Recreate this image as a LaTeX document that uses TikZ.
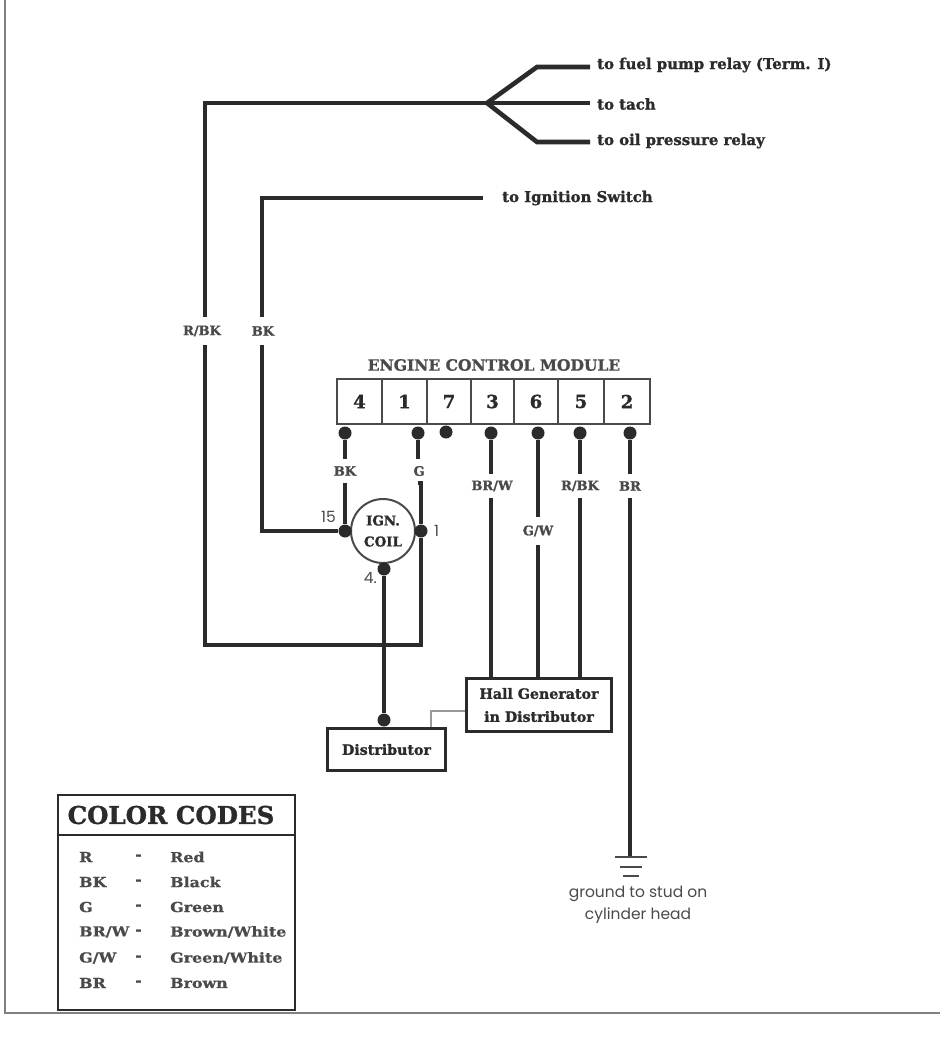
\documentclass[tikz,border=0pt]{standalone}
\usepackage{fontspec}
\setmainfont{DejaVu Serif}
\newfontfamily\geo{Poppins}
\newfontfamily\slab{DejaVu Serif}[BoldFeatures={FakeBold=1.2}]
\newfontfamily\slabwide{DejaVu Serif}[BoldFeatures={FakeStretch=1.15,FakeBold=0.8}]
\definecolor{ink}{HTML}{2B2B2B}
\definecolor{soft}{HTML}{4A4A4A}
\tikzset{
  wire/.style={draw=ink,line width=3.6pt},
  heavy/.style={draw=ink,line width=4.6pt},
  pin/.style={circle,fill=ink,draw=none,inner sep=0pt,minimum size=13pt},
  lab/.style={font=\slab\bfseries\fontsize{13}{13}\selectfont,text=soft,inner sep=0pt,minimum height=23pt,minimum width=10pt},
  dest/.style={font=\slab\bfseries\fontsize{14.9}{14.9}\selectfont,text=ink,anchor=west,inner sep=0pt},
  cell/.style={draw=soft,line width=2pt,minimum height=45pt,inner sep=0pt,font=\slab\bfseries\fontsize{18}{18}\selectfont,text=ink},
  boxx/.style={draw=ink,line width=2.6pt,inner sep=0pt,align=center,font=\slab\bfseries\fontsize{14.2}{23}\selectfont,text=ink},
  note/.style={font=\geo\fontsize{15.5}{15.5}\selectfont,text=soft,inner sep=0pt},
  legend/.style={font=\slabwide\bfseries\fontsize{13.8}{13.8}\selectfont,text=soft,anchor=west,inner sep=0pt},
}
\begin{document}
\begin{tikzpicture}[x=1pt,y=-1pt]
\useasboundingbox (0,0) rectangle (940,1039);
\fill[white] (0,0) rectangle (940,1039);
% page edge
\coordinate (e1) at (5,0); \coordinate (e2) at (5,1013); \coordinate (e3) at (940,1013);
\draw[gray,line width=1.6pt] (e1) -- (e2) -- (e3);

% ECM
\node[font=\slab\bfseries\fontsize{15.5}{15.5}\selectfont,text=soft,inner sep=0pt] (ecm) at (494,365) {ENGINE CONTROL MODULE};
\node[cell,minimum width=45pt] (c4) at (359.5,401.5) {4};
\node[cell,minimum width=45pt] (c1) at (404.5,401.5) {1};
\node[cell,minimum width=44pt] (c7) at (449,401.5) {7};
\node[cell,minimum width=43pt] (c3) at (492.5,401.5) {3};
\node[cell,minimum width=44pt] (c6) at (536,401.5) {6};
\node[cell,minimum width=46pt] (c5) at (581,401.5) {5};
\node[cell,minimum width=46pt] (c2) at (627,401.5) {2};

% pins
\node[pin] (p4) at (345,433) {};
\node[pin] (p1) at (418,433) {};
\node[pin] (p7) at (446,432) {};
\node[pin] (p3) at (491,433) {};
\node[pin] (p6) at (538,433) {};
\node[pin] (p5) at (580,433) {};
\node[pin] (p2) at (630,433) {};

% coil
\node[circle,draw=soft,line width=2pt,minimum size=64pt,inner sep=0pt,align=center,font=\slab\bfseries\fontsize{13.4}{21}\selectfont,text=ink] (coil) at (383,531) {IGN.\\COIL};
\node[pin] (j15) at (345,531) {};
\node[pin] (j1) at (421,531) {};
\node[pin] (j4) at (384,569) {};
\node[note,anchor=east] (n15) at (336,517) {15};
\node[note,anchor=west] (n1) at (434,531) {1};
\node[note,anchor=east] (n4) at (377,578) {4.};

% wire labels
\node[lab] (lbk) at (345,471) {BK};
\node[lab] (lg) at (419,471) {G};
\node[lab] (lbrw) at (492,486) {BR/W};
\node[lab,minimum height=27pt] (lgw) at (538,531) {G/W};
\node[lab] (lrbk2) at (580,486) {R/BK};
\node[lab] (lbr) at (630,486) {BR};
\node[lab,minimum height=28pt] (lrbk) at (202,331) {R/BK};
\node[lab,minimum height=28pt] (lbk2) at (263,331) {BK};

% boxes
\node[boxx,minimum width=145pt,minimum height=53pt] (hall) at (539,705) {Hall Generator\\in Distributor};
\node[boxx,minimum width=118pt,minimum height=42pt] (dist) at (386.5,749.5) {Distributor};
\node[pin] (jd) at (384,720) {};

% destinations
\node[dest] (fuel) at (597,65) {to fuel pump relay (Term. I)};
\node[dest] (tach) at (597,104) {to tach};
\node[dest] (oil) at (597,141) {to oil pressure relay};
\node[dest] (ign) at (502,198) {to Ignition Switch};

% fan
\coordinate (fan) at (487,103);
\coordinate (f1) at (537,67);
\coordinate (f3) at (537,142);
\coordinate (fe1) at (590,67);
\coordinate (fe2) at (590,103);
\coordinate (fe3) at (590,142);
\draw[heavy] (fan) -- (f1) -- (fe1);
\draw[heavy] (fan) -- (fe2);
\draw[heavy] (fan) -- (f3) -- (fe3);

% R/BK loop
\coordinate (r1) at (205,103);
\coordinate (r2) at (205,645);
\coordinate (r3) at (421,645);
\draw[heavy,line join=miter] (fan) -- (r1) -- (lrbk.north -| r1);
\draw[heavy,line join=miter] (lrbk.south -| r1) -- (r2) -- (r3) -- (j1);

% BK to ignition
\coordinate (b0) at (483,198);
\coordinate (b1) at (262,198);
\coordinate (b2) at (262,531);
\draw[heavy] (b0) -- (b1) -- (lbk2.north -| b1);
\draw[heavy] (lbk2.south -| b1) -- (b2) -- (j15);

% wires to ECM
\draw[wire] (p4) -- (lbk.north -| p4);
\draw[wire] (lbk.south -| p4) -- (j15);
\draw[wire] (p1) -- (lg.north -| p1);
\draw[wire] (lg.south -| p1) -- (j1 |- lg.south) -- (j1);
\draw[wire] (p3) -- (lbrw.north -| p3);
\draw[wire] (lbrw.south -| p3) -- (p3 |- hall.north);
\draw[wire] (p6) -- (lgw.north -| p6);
\draw[wire] (lgw.south -| p6) -- (p6 |- hall.north);
\draw[wire] (p5) -- (lrbk2.north -| p5);
\draw[wire] (lrbk2.south -| p5) -- (p5 |- hall.north);
\draw[wire] (p2) -- (lbr.north -| p2);

% ground
\coordinate (g0) at (630,857);
\draw[wire] (lbr.south -| p2) -- (g0);
\coordinate (ga1) at (615,857); \coordinate (ga2) at (647,857);
\coordinate (gb1) at (620,867); \coordinate (gb2) at (642,867);
\coordinate (gc1) at (623,876); \coordinate (gc2) at (639,876);
\draw[soft,line width=1.4pt] (ga1) -- (ga2) (gb1) -- (gb2) (gc1) -- (gc2);
\node[note] (gt1) at (638,894) {ground to stud on};
\node[note] (gt2) at (638,916) {cylinder head};

% distributor
\draw[line width=4.2pt,draw=ink] (j4) -- (jd);
\coordinate (h1) at (431,711);
\draw[gray!80,line width=2pt] (hall.west |- h1) -- (h1) -- (h1 |- dist.north);

% legend
\node[draw=ink,line width=2.6pt,minimum width=237pt,minimum height=215pt,inner sep=0pt] (cc) at (176.5,902.5) {};
\node[font=\slab\bfseries\fontsize{24.5}{24.5}\selectfont,text=ink,inner sep=0pt] (cct) at (171,815) {COLOR CODES};
\coordinate (ccl) at (58,835); \coordinate (ccr) at (295,835);
\draw[ink,line width=2.2pt] (ccl) -- (ccr);
\foreach \y/\a/\b [count=\i] in {857/R/Red,882/BK/Black,907/G/Green,932/BR\slash W/Brown\slash White,958/G\slash W/Green\slash White,983/BR/Brown}{
  \node[legend] (la\i) at (79,\y) {\a};
  \node[legend] (lm\i) at (135,\y) {-};
  \node[legend] (lb\i) at (170,\y) {\b};
}
\end{tikzpicture}
\end{document}
